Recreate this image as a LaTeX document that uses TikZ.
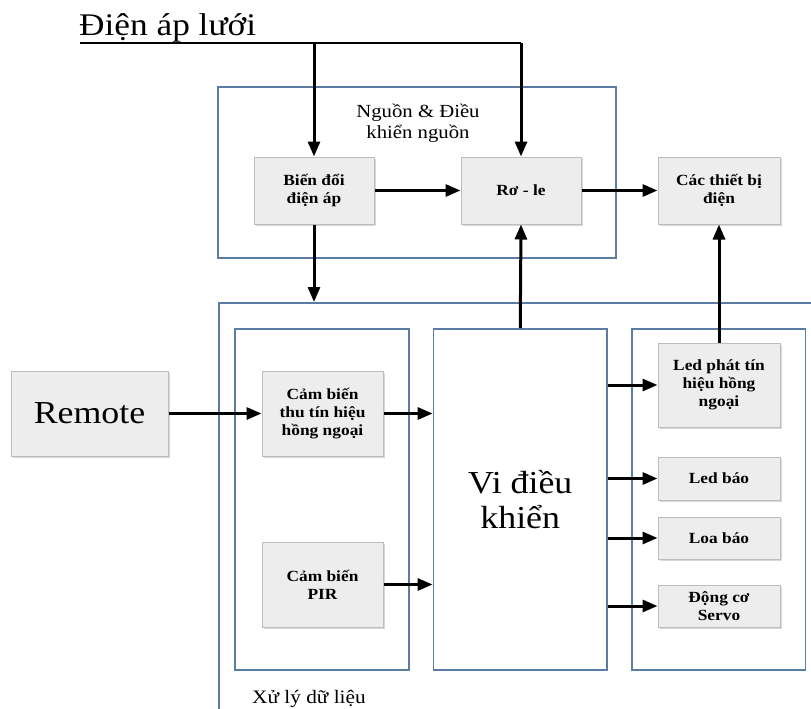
\documentclass[tikz,border=0pt]{standalone}
\usepackage{fontspec}
\setmainfont{Liberation Serif}[FakeStretch=1.12]
\usetikzlibrary{arrows.meta,shadows}
\definecolor{frame}{HTML}{5B7DA3}
\definecolor{boxfill}{HTML}{EDEDED}
\definecolor{boxline}{HTML}{BDBDBD}
\begin{document}
\begin{tikzpicture}[x=1pt,y=-1pt,
  blk/.style={draw=boxline,fill=boxfill,line width=1pt,
    drop shadow={opacity=0.3,shadow xshift=1.8pt,shadow yshift=-1.8pt},
    font=\fontsize{15.5}{18}\selectfont\bfseries,align=center,inner sep=1pt},
  cont/.style={draw=frame,line width=1.8pt,inner sep=0pt},
  arr/.style={-{Triangle[length=15pt,width=12pt]},line width=3pt},
  ln/.style={line width=2.3pt}]
\useasboundingbox (0,0) rectangle (811,709);
\clip (0,0) rectangle (811,709);
\fill[white] (0,0) rectangle (811,709);

% containers
\node[cont,minimum width=398pt,minimum height=171pt] (nguon) at (417,172.5) {};
\node[font=\fontsize{18.5}{21}\selectfont,align=center] (nguont) at (418,123) {Nguồn \& Điều\\khiển nguồn};
\node[cont,minimum width=620pt,minimum height=440pt,anchor=north west] (xl) at (218,302) {};
\node[cont,minimum width=174pt,minimum height=341pt] (left) at (322,499.5) {};
\node[cont,minimum width=173.5pt,minimum height=341pt,
      font=\fontsize{32}{35}\selectfont,align=center] (vi) at (520.25,499.5) {Vi điều\\khiển};
\node[cont,minimum width=173.5pt,minimum height=341pt] (right) at (718.75,499.5) {};
\node[font=\fontsize{19}{22}\selectfont,anchor=base west,inner sep=0pt] (xlt) at (252,703) {Xử lý dữ liệu};

% title
\node[font=\fontsize{31.5}{33}\selectfont,anchor=base west,inner sep=0pt] (title) at (79,36) {Điện áp lưới};
\coordinate (l0) at (80,43);
\coordinate (l2) at (521,43);

% blocks
\node[blk,minimum width=120pt,minimum height=67pt] (bien) at (314,190.5) {Biến đổi\\điện áp};
\node[blk,minimum width=120pt,minimum height=67pt] (role) at (521,190.5) {Rơ - le};
\node[blk,minimum width=122pt,minimum height=67pt] (cac) at (719,190.5) {Các thiết bị\\điện};
\node[blk,minimum width=157pt,minimum height=85pt,font=\fontsize{32}{36}\selectfont] (remote) at (89.5,413.5) {Remote};
\node[blk,minimum width=121pt,minimum height=85pt] (cbthu) at (322.5,413.5) {Cảm biến\\thu tín hiệu\\hồng ngoại};
\node[blk,minimum width=121pt,minimum height=85pt] (pir) at (322.5,584.5) {Cảm biến\\PIR};
\node[blk,minimum width=122pt,minimum height=84pt] (ledp) at (719,385) {Led phát tín\\hiệu hồng\\ngoại};
\node[blk,minimum width=122pt,minimum height=43pt] (ledb) at (719,478.5) {Led báo};
\node[blk,minimum width=122pt,minimum height=42pt] (loa) at (719,538) {Loa báo};
\node[blk,minimum width=122pt,minimum height=42pt] (servo) at (719,606) {Động cơ\\Servo};

% connectors
\draw[ln] (l0) -- (l2);
\draw[arr] (bien.north |- l0) -- (bien.north);
\draw[arr] (l2) -- (role.north);
\draw[arr] (bien.east) -- (role.west);
\draw[arr] (role.east) -- (cac.west);
\draw[arr] (bien.south) -- (bien.south |- xl.north);
\draw[arr] (vi.north) -- (role.south);
\draw[arr] (ledp.north) -- (cac.south);
\draw[arr] (remote.east) -- (cbthu.west);
\draw[arr] (cbthu.east) -- (vi.west |- cbthu.east);
\draw[arr] (pir.east) -- (vi.west |- pir.east);
\draw[arr] (vi.east |- ledp.west) -- (ledp.west);
\draw[arr] (vi.east |- ledb.west) -- (ledb.west);
\draw[arr] (vi.east |- loa.west) -- (loa.west);
\draw[arr] (vi.east |- servo.west) -- (servo.west);
\end{tikzpicture}
\end{document}
